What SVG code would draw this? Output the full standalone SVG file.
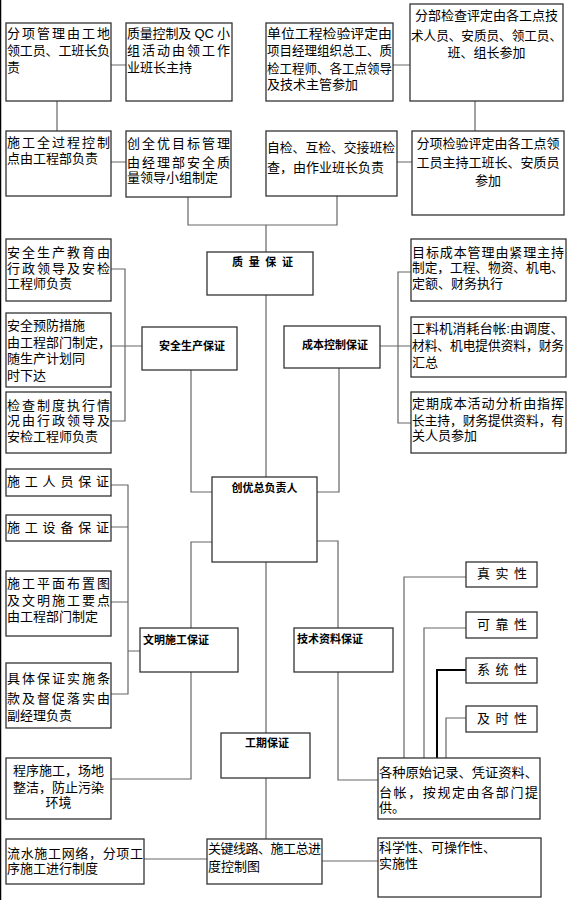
<svg xmlns="http://www.w3.org/2000/svg" width="572" height="900" viewBox="0 0 572 900">
<style>
.b{fill:#fff;stroke:#333;stroke-width:1.3}
.t{font-family:"Liberation Sans","Noto Sans CJK SC",sans-serif;font-size:13px;fill:#000}
.c{text-anchor:middle}
.s{font-family:"Liberation Sans","Noto Sans CJK SC",sans-serif;font-size:11px;font-weight:bold;fill:#000}
.l{fill:none;stroke:#666;stroke-width:1.2}
.k{fill:none;stroke:#000;stroke-width:2}
</style>
<rect width="572" height="900" fill="#fff"/>
<line x1="0.5" y1="0" x2="0.5" y2="900" stroke="#000" stroke-width="1.5"/>
<g id="connectors">
<path class="l" d="M111 65H126M57 101V131M111 162H126M393 65H410M475 101V131M397 162H412"/>
<path class="l" d="M188 197V225H337V196M266 225V252M266 295V478"/>
<path class="l" d="M111 269H125V421H111M111 346H142"/>
<path class="l" d="M411 272H398V423H411M380 346H411"/>
<path class="l" d="M191 370V492H212M339 368V492H317"/>
<path class="l" d="M111 485H128V694H111M111 527H128M111 602H128M128 651H140"/>
<path class="l" d="M212 542H191V628M191 672V779H111M317 541H338V628M338 672V780H378"/>
<path class="l" d="M266 562V733M266 778V839M144 859H207M322 861H378"/>
<path class="l" d="M466 577H404V758M466 628H424V758M466 718H446V758"/>
<path class="k" d="M466 670H437V758"/>
</g>
<g id="nA"><rect class="b" x="6" y="23" width="105" height="78"/>
<text class="t" x="7" y="38" textLength="103" lengthAdjust="spacing">分项管理由工地</text>
<text class="t" x="7" y="55" textLength="103" lengthAdjust="spacing">领工员、工班长负</text>
<text class="t" x="7" y="72">责</text></g>
<g id="nB"><rect class="b" x="126" y="23" width="106" height="78"/>
<text class="t" x="127" y="38" textLength="103" lengthAdjust="spacing">质量控制及 QC 小</text>
<text class="t" x="127" y="55" textLength="103" lengthAdjust="spacing">组活动由领工作</text>
<text class="t" x="127" y="72">业班长主持</text></g>
<g id="nE"><rect class="b" x="266" y="23" width="127" height="78"/>
<text class="t" x="267" y="38" textLength="125" lengthAdjust="spacingAndGlyphs">单位工程检验评定由</text>
<text class="t" x="267" y="55" textLength="125" lengthAdjust="spacingAndGlyphs">项目经理组织总工、质</text>
<text class="t" x="267" y="73" textLength="125" lengthAdjust="spacingAndGlyphs">检工程师、各工点领导</text>
<text class="t" x="267" y="89">及技术主管参加</text></g>
<g id="nF"><rect class="b" x="410" y="4" width="153" height="97"/>
<text class="t c" x="486.5" y="20">分部检查评定由各工点技</text>
<text class="t c" x="486.5" y="40" textLength="151" lengthAdjust="spacingAndGlyphs">术人员、安质员、领工员、</text>
<text class="t c" x="486.5" y="57">班、组长参加</text></g>
<g id="nC"><rect class="b" x="6" y="131" width="105" height="65"/>
<text class="t" x="7" y="147" textLength="103" lengthAdjust="spacing">施工全过程控制</text>
<text class="t" x="7" y="163">点由工程部负责</text></g>
<g id="nD"><rect class="b" x="126" y="131" width="105" height="66"/>
<text class="t" x="127" y="148" textLength="103" lengthAdjust="spacing">创全优目标管理</text>
<text class="t" x="127" y="167" textLength="103" lengthAdjust="spacing">由经理部安全质</text>
<text class="t" x="127" y="182">量领导小组制定</text></g>
<g id="nH"><rect class="b" x="266" y="131" width="131" height="65"/>
<text class="t" x="267" y="152" textLength="128" lengthAdjust="spacingAndGlyphs">自检、互检、交接班检</text>
<text class="t" x="267" y="172">查，由作业班长负责</text></g>
<g id="nG"><rect class="b" x="412" y="131" width="152" height="84"/>
<text class="t c" x="488" y="148">分项检验评定由各工点领</text>
<text class="t c" x="488" y="167">工员主持工班长、安质员</text>
<text class="t c" x="488" y="185">参加</text></g>
<g id="quality"><rect class="b" x="207" y="252" width="106" height="43"/>
<text class="s" x="232" y="266" textLength="61" lengthAdjust="spacing">质量保证</text></g>
<g id="nI"><rect class="b" x="6" y="239" width="105" height="62"/>
<text class="t" x="7" y="257" textLength="103" lengthAdjust="spacing">安全生产教育由</text>
<text class="t" x="7" y="273" textLength="103" lengthAdjust="spacing">行政领导及安检</text>
<text class="t" x="7" y="288">工程师负责</text></g>
<g id="nJ"><rect class="b" x="6" y="313" width="105" height="74"/>
<text class="t" x="7" y="330">安全预防措施</text>
<text class="t" x="7" y="347">由工程部门制定，</text>
<text class="t" x="7" y="363">随生产计划同</text>
<text class="t" x="7" y="380">时下达</text></g>
<g id="nK"><rect class="b" x="6" y="392" width="105" height="61"/>
<text class="t" x="7" y="410" textLength="103" lengthAdjust="spacing">检查制度执行情</text>
<text class="t" x="7" y="425" textLength="103" lengthAdjust="spacing">况由行政领导及</text>
<text class="t" x="7" y="441">安检工程师负责</text></g>
<g id="safety"><rect class="b" x="142" y="327" width="95" height="43"/>
<text class="s c" x="192" y="350">安全生产保证</text></g>
<g id="cost"><rect class="b" x="284" y="326" width="96" height="42"/>
<text class="s c" x="335" y="349">成本控制保证</text></g>
<g id="nL"><rect class="b" x="411" y="239" width="155" height="62"/>
<text class="t" x="412" y="257" textLength="152" lengthAdjust="spacing">目标成本管理由紧理主持</text>
<text class="t" x="412" y="272" textLength="152" lengthAdjust="spacingAndGlyphs">制定，工程、物资、机电、</text>
<text class="t" x="412" y="288">定额、财务执行</text></g>
<g id="nM"><rect class="b" x="411" y="317" width="155" height="60"/>
<text class="t" x="412" y="333" textLength="152" lengthAdjust="spacingAndGlyphs">工料机消耗台帐:由调度、</text>
<text class="t" x="412" y="350" textLength="152" lengthAdjust="spacingAndGlyphs">材料、机电提供资料，财务</text>
<text class="t" x="412" y="367">汇总</text></g>
<g id="nN"><rect class="b" x="411" y="392" width="155" height="61"/>
<text class="t" x="412" y="408" textLength="152" lengthAdjust="spacing">定期成本活动分析由指挥</text>
<text class="t" x="412" y="425" textLength="152" lengthAdjust="spacingAndGlyphs">长主持，财务提供资料，有</text>
<text class="t" x="412" y="440">关人员参加</text></g>
<g id="chief"><rect class="b" x="212" y="477" width="105" height="85"/>
<text class="s c" x="264.5" y="492">创优总负责人</text></g>
<g id="p1"><rect class="b" x="6" y="469" width="105" height="27"/>
<text class="t" x="7" y="486" textLength="102" lengthAdjust="spacing">施工人员保证</text></g>
<g id="p2"><rect class="b" x="6" y="515" width="105" height="26"/>
<text class="t" x="7" y="532" textLength="102" lengthAdjust="spacing">施工设备保证</text></g>
<g id="p3"><rect class="b" x="6" y="571" width="105" height="65"/>
<text class="t" x="7" y="588" textLength="103" lengthAdjust="spacing">施工平面布置图</text>
<text class="t" x="7" y="605" textLength="103" lengthAdjust="spacing">及文明施工要点</text>
<text class="t" x="7" y="621">由工程部门制定</text></g>
<g id="p4"><rect class="b" x="6" y="663" width="105" height="65"/>
<text class="t" x="7" y="683" textLength="103" lengthAdjust="spacing">具体保证实施条</text>
<text class="t" x="7" y="703" textLength="103" lengthAdjust="spacing">款及督促落实由</text>
<text class="t" x="7" y="720">副经理负责</text></g>
<g id="civil"><rect class="b" x="140" y="628" width="98" height="44"/>
<text class="s" x="143" y="644">文明施工保证</text></g>
<g id="tech"><rect class="b" x="294" y="628" width="99" height="44"/>
<text class="s" x="297" y="643">技术资料保证</text></g>
<g id="q1"><rect class="b" x="466" y="562" width="71" height="25"/>
<text class="t" x="477" y="578" textLength="50" lengthAdjust="spacing">真实性</text></g>
<g id="q2"><rect class="b" x="466" y="612" width="71" height="26"/>
<text class="t" x="477" y="629" textLength="50" lengthAdjust="spacing">可靠性</text></g>
<g id="q3"><rect class="b" x="466" y="658" width="71" height="25"/>
<text class="t" x="477" y="674" textLength="50" lengthAdjust="spacing">系统性</text></g>
<g id="q4"><rect class="b" x="466" y="706" width="71" height="26"/>
<text class="t" x="477" y="723" textLength="50" lengthAdjust="spacing">及时性</text></g>
<g id="records"><rect class="b" x="378" y="758" width="162" height="61"/>
<text class="t" x="379" y="777" textLength="159" lengthAdjust="spacingAndGlyphs">各种原始记录、凭证资料、</text>
<text class="t" x="379" y="797" textLength="159" lengthAdjust="spacing">台帐，按规定由各部门提</text>
<text class="t" x="379" y="812">供。</text></g>
<g id="schedule"><rect class="b" x="221" y="733" width="89" height="45"/>
<text class="s c" x="267" y="747">工期保证</text></g>
<g id="order"><rect class="b" x="6" y="758" width="105" height="61"/>
<text class="t c" x="58.5" y="775">程序施工，场地</text>
<text class="t c" x="58.5" y="792">整洁，防止污染</text>
<text class="t c" x="58.5" y="807">环境</text></g>
<g id="flow"><rect class="b" x="6" y="839" width="138" height="45"/>
<text class="t" x="7" y="858" textLength="136" lengthAdjust="spacing">流水施工网络，分项工</text>
<text class="t" x="7" y="873">序施工进行制度</text></g>
<g id="critical"><rect class="b" x="207" y="839" width="115" height="45"/>
<text class="t" x="208" y="853" textLength="113" lengthAdjust="spacing">关键线路、施工总进</text>
<text class="t" x="208" y="871">度控制图</text></g>
<g id="science"><rect class="b" x="378" y="838" width="163" height="59"/>
<text class="t" x="379" y="852">科学性、可操作性、</text>
<text class="t" x="379" y="868">实施性</text></g>
</svg>
